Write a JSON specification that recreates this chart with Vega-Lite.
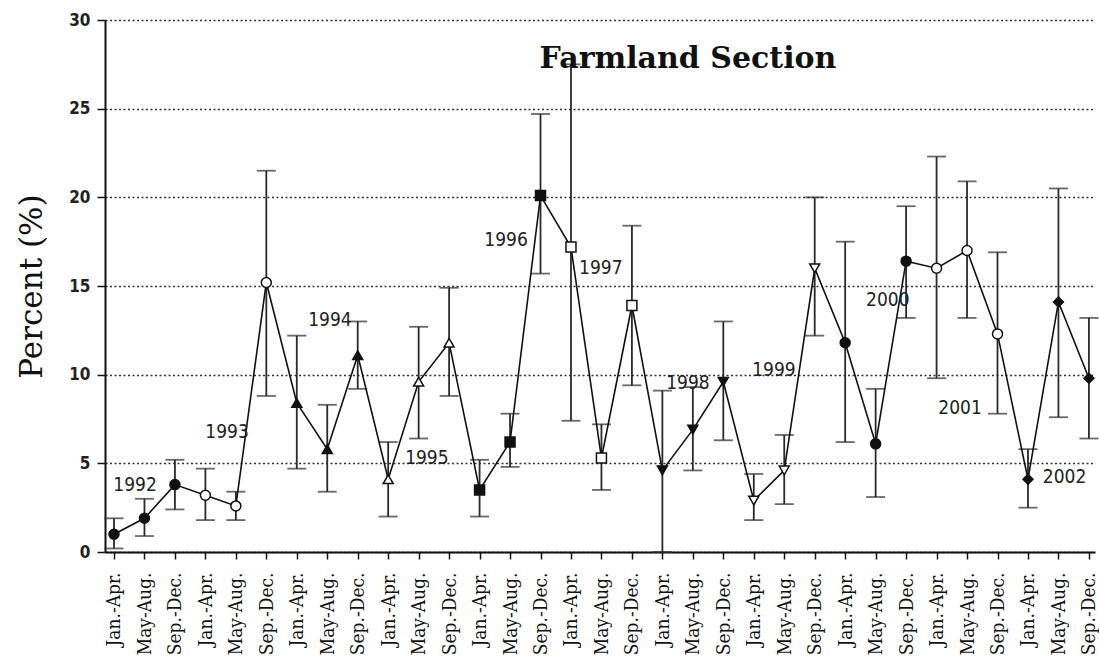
{
  "$schema": "https://vega.github.io/schema/vega-lite/v6.json",
  "width": 990,
  "height": 532,
  "autosize": {"type": "none"},
  "padding": {"left": 105, "top": 20, "right": 4, "bottom": 118},
  "background": "white",
  "config": {
    "view": {"stroke": null},
    "axisX": {"labelOverlap": false, "labelBound": false, "labelFlush": false, "labelSeparation": 0}
  },
  "datasets": {
    "obs": [
      {"i": 1, "period": "Jan.-Apr.", "year": "1992", "v": 1.0, "lo": 0.2, "hi": 1.9},
      {"i": 2, "period": "May-Aug.", "year": "1992", "v": 1.9, "lo": 0.9, "hi": 3.0},
      {"i": 3, "period": "Sep.-Dec.", "year": "1992", "v": 3.8, "lo": 2.4, "hi": 5.2},
      {"i": 4, "period": "Jan.-Apr.", "year": "1993", "v": 3.2, "lo": 1.8, "hi": 4.7},
      {"i": 5, "period": "May-Aug.", "year": "1993", "v": 2.6, "lo": 1.8, "hi": 3.4},
      {"i": 6, "period": "Sep.-Dec.", "year": "1993", "v": 15.2, "lo": 8.8, "hi": 21.5},
      {"i": 7, "period": "Jan.-Apr.", "year": "1994", "v": 8.4, "lo": 4.7, "hi": 12.2},
      {"i": 8, "period": "May-Aug.", "year": "1994", "v": 5.8, "lo": 3.4, "hi": 8.3},
      {"i": 9, "period": "Sep.-Dec.", "year": "1994", "v": 11.1, "lo": 9.2, "hi": 13.0},
      {"i": 10, "period": "Jan.-Apr.", "year": "1995", "v": 4.1, "lo": 2.0, "hi": 6.2},
      {"i": 11, "period": "May-Aug.", "year": "1995", "v": 9.6, "lo": 6.4, "hi": 12.7},
      {"i": 12, "period": "Sep.-Dec.", "year": "1995", "v": 11.8, "lo": 8.8, "hi": 14.9},
      {"i": 13, "period": "Jan.-Apr.", "year": "1996", "v": 3.5, "lo": 2.0, "hi": 5.2},
      {"i": 14, "period": "May-Aug.", "year": "1996", "v": 6.2, "lo": 4.8, "hi": 7.8},
      {"i": 15, "period": "Sep.-Dec.", "year": "1996", "v": 20.1, "lo": 15.7, "hi": 24.7},
      {"i": 16, "period": "Jan.-Apr.", "year": "1997", "v": 17.2, "lo": 7.4, "hi": 27.5},
      {"i": 17, "period": "May-Aug.", "year": "1997", "v": 5.3, "lo": 3.5, "hi": 7.2},
      {"i": 18, "period": "Sep.-Dec.", "year": "1997", "v": 13.9, "lo": 9.4, "hi": 18.4},
      {"i": 19, "period": "Jan.-Apr.", "year": "1998", "v": 4.6, "lo": 0.0, "hi": 9.1},
      {"i": 20, "period": "May-Aug.", "year": "1998", "v": 6.9, "lo": 4.6, "hi": 9.3},
      {"i": 21, "period": "Sep.-Dec.", "year": "1998", "v": 9.6, "lo": 6.3, "hi": 13.0},
      {"i": 22, "period": "Jan.-Apr.", "year": "1999", "v": 2.9, "lo": 1.8, "hi": 4.4},
      {"i": 23, "period": "May-Aug.", "year": "1999", "v": 4.6, "lo": 2.7, "hi": 6.6},
      {"i": 24, "period": "Sep.-Dec.", "year": "1999", "v": 16.0, "lo": 12.2, "hi": 20.0},
      {"i": 25, "period": "Jan.-Apr.", "year": "2000", "v": 11.8, "lo": 6.2, "hi": 17.5},
      {"i": 26, "period": "May-Aug.", "year": "2000", "v": 6.1, "lo": 3.1, "hi": 9.2},
      {"i": 27, "period": "Sep.-Dec.", "year": "2000", "v": 16.4, "lo": 13.2, "hi": 19.5},
      {"i": 28, "period": "Jan.-Apr.", "year": "2001", "v": 16.0, "lo": 9.8, "hi": 22.3},
      {"i": 29, "period": "May-Aug.", "year": "2001", "v": 17.0, "lo": 13.2, "hi": 20.9},
      {"i": 30, "period": "Sep.-Dec.", "year": "2001", "v": 12.3, "lo": 7.8, "hi": 16.9},
      {"i": 31, "period": "Jan.-Apr.", "year": "2002", "v": 4.1, "lo": 2.5, "hi": 5.8},
      {"i": 32, "period": "May-Aug.", "year": "2002", "v": 14.1, "lo": 7.6, "hi": 20.5},
      {"i": 33, "period": "Sep.-Dec.", "year": "2002", "v": 9.8, "lo": 6.4, "hi": 13.2}
    ],
    "labels": [
      {"label": "1992", "i": 1.69, "ly": 3.78},
      {"label": "1993", "i": 4.71, "ly": 6.77},
      {"label": "1994", "i": 8.09, "ly": 13.08},
      {"label": "1995", "i": 11.27, "ly": 5.3},
      {"label": "1996", "i": 13.87, "ly": 17.6},
      {"label": "1997", "i": 16.98, "ly": 16.0},
      {"label": "1998", "i": 19.84, "ly": 9.53},
      {"label": "1999", "i": 22.66, "ly": 10.27},
      {"label": "2000", "i": 26.4, "ly": 14.2},
      {"label": "2001", "i": 28.77, "ly": 8.1},
      {"label": "2002", "i": 32.2, "ly": 4.23}
    ],
    "heading": [
      {"text": "Farmland Section", "i": 19.84, "ly": 27.8}
    ]
  },
  "encoding": {
    "x": {
      "field": "i", "type": "quantitative",
      "scale": {"domain": [0.705, 33.2], "nice": false, "zero": false},
      "axis": {
        "values": [1,2,3,4,5,6,7,8,9,10,11,12,13,14,15,16,17,18,19,20,21,22,23,24,25,26,27,28,29,30,31,32,33],
        "labelExpr": "['Jan.-Apr.','May-Aug.','Sep.-Dec.'][(datum.value-1)%3]",
        "labelAngle": 270, "labelAlign": "right", "labelBaseline": "middle",
        "labelFont": "DejaVu Serif Condensed, DejaVu Serif", "labelFontSize": 19, "labelColor": "#111",
        "labelPadding": 13, "labelOverlap": false, "labelBound": false, "labelFlush": false,
        "grid": false, "domainColor": "#111", "domainWidth": 2,
        "tickColor": "#111", "tickSize": 7, "tickWidth": 1.5,
        "title": null
      }
    }
  },
  "layer": [
    {
      "data": {"name": "obs"},
      "mark": {"type": "rule", "color": "#2a2a2a", "strokeWidth": 1.8},
      "encoding": {
        "y": {
          "field": "lo", "type": "quantitative",
          "scale": {"domain": [0, 30], "nice": false},
          "axis": {
            "values": [0, 5, 10, 15, 20, 25, 30],
            "grid": true, "gridDash": [2, 2.5], "gridColor": "#333", "gridWidth": 1.4,
            "domainColor": "#111", "domainWidth": 2,
            "tickColor": "#111", "tickSize": 8, "tickWidth": 1.5,
            "labelFont": "DejaVu Sans Condensed, DejaVu Sans", "labelFontWeight": "bold", "labelFontSize": 17, "labelColor": "#222",
            "labelPadding": 7,
            "title": "Percent (%)", "titleFont": "DejaVu Serif", "titleFontSize": 31, "titleFontWeight": "normal",
            "titleColor": "#111", "titlePadding": 20
          }
        },
        "y2": {"field": "hi"}
      }
    },
    {
      "data": {"name": "obs"},
      "mark": {"type": "tick", "orient": "horizontal", "color": "#2a2a2a", "size": 19, "thickness": 1.8},
      "encoding": {
        "y": {"field": "lo", "type": "quantitative"}
      }
    },
    {
      "data": {"name": "obs"},
      "mark": {"type": "tick", "orient": "horizontal", "color": "#2a2a2a", "size": 19, "thickness": 1.8},
      "encoding": {
        "y": {"field": "hi", "type": "quantitative"}
      }
    },
    {
      "data": {"name": "obs"},
      "mark": {"type": "line", "color": "#111", "strokeWidth": 1.6},
      "encoding": {
        "y": {"field": "v", "type": "quantitative"}
      }
    },
    {
      "data": {"name": "obs"},
      "mark": {"type": "point", "filled": true, "stroke": "#111", "strokeWidth": 1.5, "size": 100, "opacity": 1},
      "encoding": {
        "y": {"field": "v", "type": "quantitative"},
        "shape": {
          "field": "year", "type": "nominal", "legend": null,
          "scale": {
            "domain": ["1992","1993","1994","1995","1996","1997","1998","1999","2000","2001","2002"],
            "range": ["circle","circle","triangle-up","triangle-up","square","square","triangle-down","triangle-down","circle","circle","diamond"]
          }
        },
        "fill": {
          "field": "year", "type": "nominal", "legend": null,
          "scale": {
            "domain": ["1992","1993","1994","1995","1996","1997","1998","1999","2000","2001","2002"],
            "range": ["#111","#ffffff","#111","#ffffff","#111","#ffffff","#111","#ffffff","#111","#ffffff","#111"]
          }
        }
      }
    },
    {
      "data": {"name": "labels"},
      "mark": {"type": "text", "font": "DejaVu Sans Condensed, DejaVu Sans", "fontSize": 19, "color": "#222", "align": "center", "baseline": "middle"},
      "encoding": {
        "y": {"field": "ly", "type": "quantitative"},
        "text": {"field": "label"}
      }
    },
    {
      "data": {"name": "heading"},
      "mark": {"type": "text", "font": "DejaVu Serif", "fontSize": 30, "fontWeight": "bold", "color": "#111", "align": "center", "baseline": "middle"},
      "encoding": {
        "y": {"field": "ly", "type": "quantitative"},
        "text": {"field": "text"}
      }
    }
  ]
}
